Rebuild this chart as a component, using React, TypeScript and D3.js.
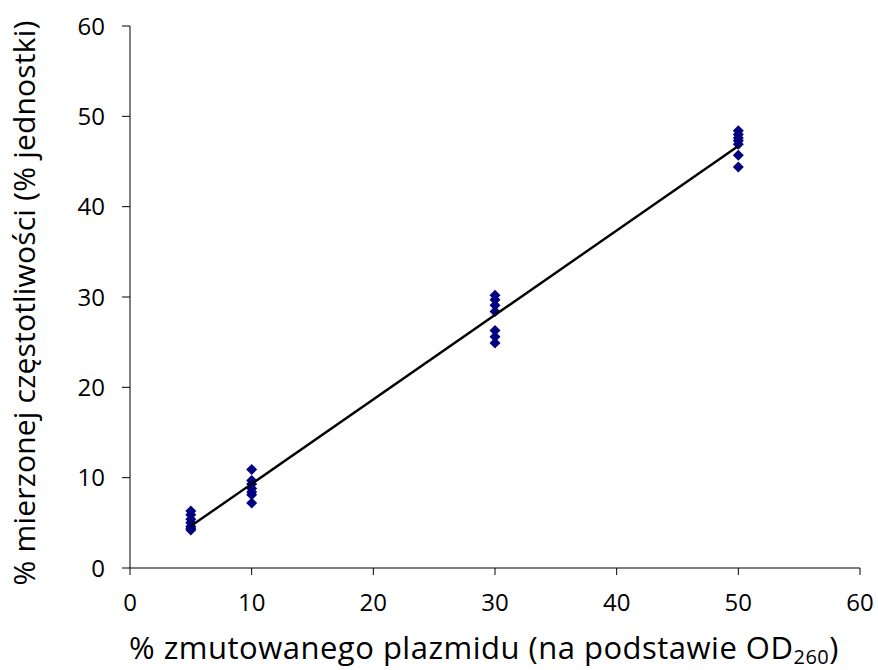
import React from "react";
import * as d3 from "d3";

const xGroups = [5, 10, 30, 50];
const yAt5 = [6.3, 5.9, 5.4, 5.0, 4.6, 4.4, 4.2];
const yAt10 = [10.9, 9.7, 9.3, 8.8, 8.4, 8.1, 7.2];
const yAt30 = [30.2, 29.7, 29.1, 28.4, 26.3, 25.6, 24.9];
const yAt50 = [48.4, 48.0, 47.6, 47.3, 46.9, 45.7, 44.4];
const xTicks = [0, 10, 20, 30, 40, 50, 60];
const yTicks = [0, 10, 20, 30, 40, 50, 60];

const W = 878, H = 670;
const FONT = "'Open Sans', sans-serif";

export default function App() {
  const x = d3.scaleLinear().domain([0, 60]).range([130, 860]);
  const y = d3.scaleLinear().domain([0, 60]).range([568, 26]);
  const series = [yAt5, yAt10, yAt30, yAt50];
  const pts = series.flatMap((ys, i) => ys.map((v) => ({ x: xGroups[i], y: v })));
  const mx = d3.mean(pts, (p) => p.x)!;
  const my = d3.mean(pts, (p) => p.y)!;
  const sxy = d3.sum(pts, (p) => (p.x - mx) * (p.y - my));
  const sxx = d3.sum(pts, (p) => (p.x - mx) ** 2);
  const slope = sxy / sxx;
  const icpt = my - slope * mx;
  const xmin = d3.min(xGroups)!, xmax = d3.max(xGroups)!;
  const line = d3.line<number>().x((d) => x(d)).y((d) => y(icpt + slope * d));
  const r = 5.5;
  const diamond = `M0,${-r}L${r},0L0,${r}L${-r},0Z`;

  return (
    <div style={{ position: "absolute", left: 0, top: 0 }}>
      <svg width={W} height={H} style={{ display: "block", background: "#fff" }}>
        {/* y axis */}
        <line x1={x(0)} x2={x(0)} y1={y(0)} y2={y(60)} stroke="#000" strokeWidth={1} />
        {yTicks.map((t) => (
          <g key={"y" + t}>
            <line x1={x(0) - 8} x2={x(0)} y1={y(t)} y2={y(t)} stroke="#000" />
            <text x={x(0) - 25} y={y(t)} dy="0.36em" textAnchor="end" fontFamily={FONT} fontSize={24} fill="#000">
              {t}
            </text>
          </g>
        ))}
        {/* x axis */}
        <line x1={x(0)} x2={x(60)} y1={y(0)} y2={y(0)} stroke="#000" strokeWidth={1} />
        {xTicks.map((t) => (
          <g key={"x" + t}>
            <line x1={x(t)} x2={x(t)} y1={y(0)} y2={y(0) + 7} stroke="#000" />
            <text x={x(t)} y={y(0) + 34} dy="0.36em" textAnchor="middle" fontFamily={FONT} fontSize={24} fill="#000">
              {t}
            </text>
          </g>
        ))}
        {/* points */}
        {pts.map((p, i) => (
          <path key={i} d={diamond} transform={`translate(${x(p.x)},${y(p.y)})`} fill="#000080" />
        ))}
        {/* trend line */}
        <path d={line([xmin, xmax])!} stroke="#000" strokeWidth={2.4} fill="none" />
        {/* axis titles */}
        <text x={484} y={659} textAnchor="middle" fontFamily={FONT} fontSize={31} letterSpacing={0.5} fill="#000">
          % zmutowanego plazmidu (na podstawie OD
          <tspan fontSize={20} dy={5}>260</tspan>
          <tspan dy={-5}>)</tspan>
        </text>
        <text
          transform={`translate(35,303) rotate(-90)`}
          textAnchor="middle"
          fontFamily={FONT}
          fontSize={30}
          letterSpacing={0.2}
          fill="#000"
        >
          % mierzonej częstotliwości (% jednostki)
        </text>
      </svg>
    </div>
  );
}
